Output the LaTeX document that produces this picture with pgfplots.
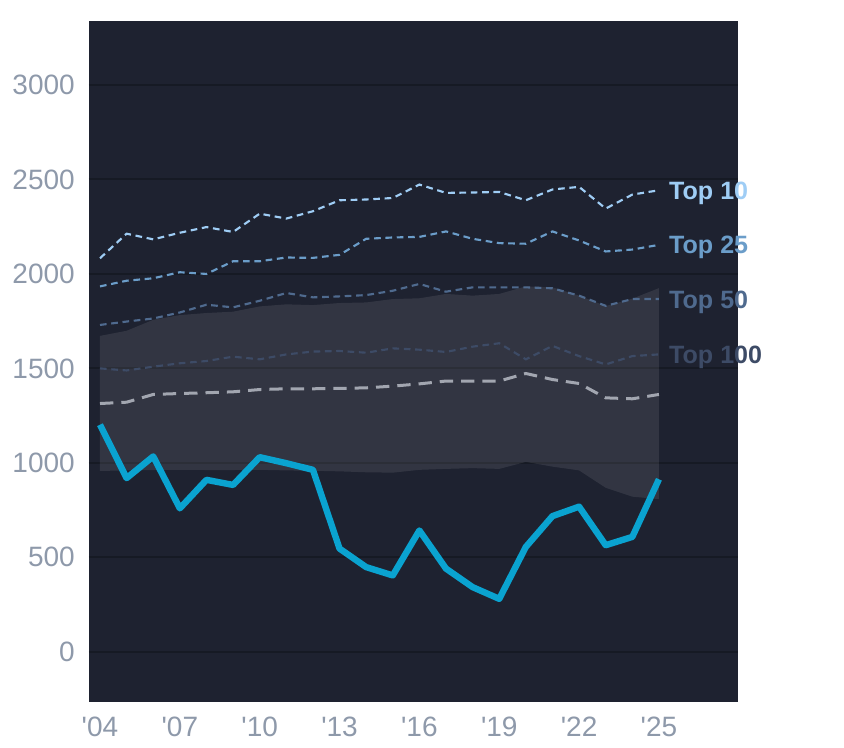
\documentclass[border=0pt]{standalone}
\usepackage{fontspec}
\setmainfont{Liberation Sans}
\newfontfamily\lsans{Liberation Sans}
\usepackage{pgfplots}
\usepackage{pgfplotstable}
\pgfplotsset{compat=1.18}
\usepgfplotslibrary{fillbetween}

\definecolor{bg}{HTML}{1E2230}
\definecolor{gridc}{HTML}{161A24}
\definecolor{tickc}{HTML}{8E99AA}
\definecolor{mainc}{HTML}{0AA3D0}
\definecolor{t10}{HTML}{9FCDF5}
\definecolor{t25}{HTML}{6B9DC9}
\definecolor{t50}{HTML}{4F6A8E}
\definecolor{t100}{HTML}{3D4B66}
\definecolor{medc}{HTML}{A2A6B0}

\tikzset{toplab/.style={anchor=base west, inner sep=0pt, xshift=7.5pt, yshift=-6.8pt, font=\lsans\bfseries\fontsize{18.8}{22}\selectfont}}

\pgfplotstableread{
year main lo hi t10 t25 t50 t100 med
2004 1202 957 1672 2083 1934 1730 1500 1314
2005 919 960 1699 2213 1964 1748 1489 1321
2006 1034 962 1757 2183 1977 1764 1509 1362
2007 759 963 1782 2218 2009 1796 1527 1367
2008 910 962 1793 2248 2000 1837 1539 1371
2009 883 962 1800 2222 2067 1823 1562 1376
2010 1030 963 1828 2319 2067 1858 1548 1388
2011 998 960 1839 2293 2087 1899 1574 1392
2012 963 958 1835 2332 2085 1876 1589 1392
2013 546 955 1846 2390 2101 1881 1592 1394
2014 448 950 1849 2394 2186 1888 1583 1397
2015 404 948 1867 2402 2193 1911 1606 1406
2016 642 963 1871 2473 2196 1947 1599 1418
2017 440 968 1894 2429 2225 1906 1587 1433
2018 342 972 1885 2431 2186 1929 1615 1433
2019 280 968 1894 2434 2163 1929 1633 1433
2020 555 1005 1934 2390 2160 1929 1548 1473
2021 718 980 1929 2447 2225 1924 1619 1441
2022 768 960 1885 2461 2177 1885 1565 1420
2023 564 868 1830 2346 2119 1831 1521 1344
2024 608 821 1869 2420 2129 1867 1565 1339
2025 913 808 1925 2443 2154 1867 1574 1362
}\data

\begin{document}
\begin{tikzpicture}
\begin{axis}[
  name=ax,
  scale only axis,
  width=486.75pt, height=510.75pt,
  xmin=2003.587, xmax=2027.97,
  ymin=-266, ymax=3339,
  axis background/.style={fill=bg},
  axis line style={draw=none},
  major tick length=0pt,
  ytick={0,500,1000,1500,2000,2500,3000},
  xtick={2004,2007,2010,2013,2016,2019,2022,2025},
  xticklabels={{'04},{'07},{'10},{'13},{'16},{'19},{'22},{'25}},
  ymajorgrids,
  grid style={draw=gridc, line width=1.5pt},
  /pgf/number format/assume math mode=true,
  /pgf/number format/1000 sep={},
  tick label style={font=\lsans\fontsize{21}{25}\selectfont, text=tickc},
  yticklabel style={anchor=east, inner sep=0pt, xshift=-10.5pt},
  xticklabel style={anchor=north, inner sep=0pt, yshift=-11.25pt},
  clip=false,
]
\addplot[name path=hi, draw=none, forget plot] table[x=year, y=hi] {\data};
\addplot[name path=lo, draw=none, forget plot] table[x=year, y=lo] {\data};
\addplot[fill=white, fill opacity=0.09, draw=none] fill between[of=hi and lo];

\addplot[t100, line width=1.6pt, dash pattern=on 5pt off 3.5pt] table[x=year, y=t100] {\data};
\addplot[t50, line width=1.6pt, dash pattern=on 5pt off 3.5pt] table[x=year, y=t50] {\data};
\addplot[t25, line width=1.6pt, dash pattern=on 5pt off 3.5pt] table[x=year, y=t25] {\data};
\addplot[t10, line width=1.6pt, dash pattern=on 5pt off 3.5pt] table[x=year, y=t10] {\data};
\addplot[medc, line width=2.25pt, dash pattern=on 10pt off 6pt] table[x=year, y=med] {\data};
\addplot[mainc, line width=4.8pt, line join=round] table[x=year, y=main] {\data};

\node[toplab, text=t10] at (axis cs:2025,2443) {Top 10};
\node[toplab, text=t25] at (axis cs:2025,2154) {Top 25};
\node[toplab, text=t50] at (axis cs:2025,1867) {Top 50};
\node[toplab, text=t100] at (axis cs:2025,1574) {Top 100};
\end{axis}
\pgfresetboundingbox
\path[use as bounding box] ([xshift=-66.75pt,yshift=-34.5pt]ax.south west) rectangle ++(633pt,561pt);
\end{tikzpicture}
\end{document}
